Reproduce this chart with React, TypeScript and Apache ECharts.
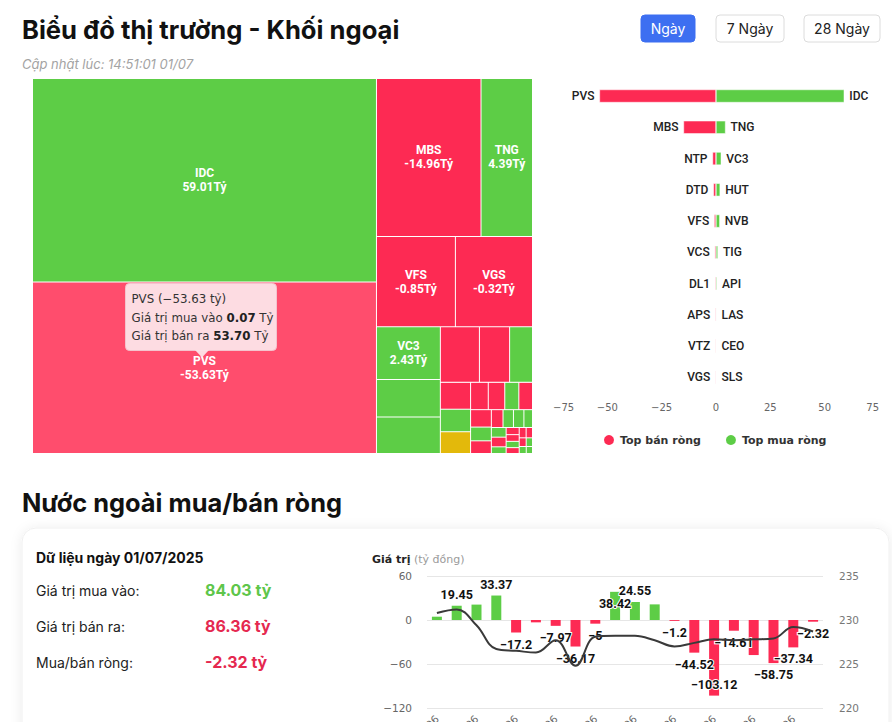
import React, { useEffect, useRef } from 'react';
import * as echarts from 'echarts';

// ---------- colours ----------
const GREEN = '#5dcd46';
const RED = '#fd2a53';
const RED_HOVER = '#ff4d6d';
const YELLOW = '#e3b90b';
const BLUE = '#3d6ff1';

// ---------- header ----------
const TITLE = 'Biểu đồ thị trường - Khối ngoại';
const UPDATED = 'Cập nhật lúc: 14:51:01 01/07';
const RANGE_BUTTONS = ['Ngày', '7 Ngày', '28 Ngày'];

// ---------- treemap (size = buy + sell, label = net) ----------
const tmNames = ['IDC', 'PVS', 'MBS', 'TNG', 'VFS', 'VGS', 'VC3', 'HUT', 'NVB', 'NTP', 'DTD', 'TIG', 'VCS', 'API', 'VTC', 'DL1', 'APS', 'LAS', 'VTZ', 'PVC', 'CEO', 'TVD', 'BVS', 'SLS', 'PVB', 'L14', 'HHC', 'NBC', 'SCG', 'PVG', 'MST', 'TDN', 'VNR', 'DHT', 'PLC', 'BCC', 'IDV', 'NDN', 'VIG'];
const tmTotals = [63.8, 53.77, 15.05, 7.41, 6.5, 6.35, 3.07, 2.18, 2.13, 1.98, 1.53, 1.16, 0.74, 0.62, 0.6, 0.44, 0.41, 0.35, 0.34, 0.33, 0.26, 0.24, 0.19, 0.17, 0.17, 0.14, 0.13, 0.13, 0.09, 0.085, 0.08, 0.075, 0.07, 0.065, 0.06, 0.055, 0.05, 0.045, 0.04];
const tmNet = [59.01, -53.63, -14.96, 4.39, -0.85, -0.32, 2.43, 1.9, 1.75, -1.6, -1.2, 0.9, -0.6, 0.5, 0, -0.42, -0.38, 0.25, -0.33, -0.3, 0.2, -0.2, -0.15, 0.15, 0.12, 0.1, -0.1, 0.09, 0.06, -0.06, -0.05, 0.04, -0.05, -0.04, -0.04, -0.03, 0.03, 0.02, 0.02];
const HOVERED = 'PVS';
const HOVER_BUY = 0.07;
const HOVER_SELL = 53.7;
const LABEL_MIN_SIZE = 3;

// ---------- top net sellers / buyers ----------
const topSellers = ['PVS', 'MBS', 'NTP', 'DTD', 'VFS', 'VCS', 'DL1', 'APS', 'VTZ', 'VGS'];
const topSellValues = [-53.63, -14.96, -1.6, -1.2, -0.85, -0.6, -0.42, -0.38, -0.33, -0.32];
const topBuyers = ['IDC', 'TNG', 'VC3', 'HUT', 'NVB', 'TIG', 'API', 'LAS', 'CEO', 'SLS'];
const topBuyValues = [59.01, 4.39, 2.43, 1.9, 1.75, 0.9, 0.5, 0.25, 0.2, 0.15];

// ---------- foreign net flow ----------
const SECTION_TITLE = 'Nước ngoài mua/bán ròng';
const DATA_DATE = '01/07/2025';
const TOTAL_BUY = 84.03;
const TOTAL_SELL = 86.36;
const panelLabels = ['Giá trị mua vào:', 'Giá trị bán ra:', 'Mua/bán ròng:'];
const flowDates = ['04/06', '05/06', '06/06', '09/06', '10/06', '11/06', '12/06', '13/06', '16/06', '17/06', '18/06', '19/06', '20/06', '23/06', '24/06', '25/06', '26/06', '27/06', '30/06', '01/07'];
const flowNet = [4.5, 19.45, 21.0, 33.37, -17.2, -3.2, -7.97, -36.17, -5, 38.42, 24.55, 21.3, -1.2, -44.52, -103.12, -14.61, -47.8, -58.75, -37.34, -2.32];
const hnxIndex = [230.8, 231.2, 229.4, 226.7, 226.5, 226.3, 227.7, 224.8, 228.1, 228.2, 228.2, 227.7, 227.0, 227.4, 227.8, 227.7, 227.8, 227.9, 229.2, 228.7];
const FLOW_HIDDEN_LABELS = [0, 2, 5, 11, 16];
const FLOW_INSIDE_LABELS = [9, 14];

const minus = (v: number, digits?: number) => {
  const s = digits == null ? String(Math.abs(v)) : Math.abs(v).toFixed(digits);
  return v < 0 ? '\u2212' + s : s;
};

function buildOption() {
  const netColor = (v: number, name: string) => {
    if (v > 0) return GREEN;
    if (v < 0) return name === HOVERED ? RED_HOVER : RED;
    return YELLOW;
  };

  const treemapData = tmNames.map((name, i) => ({
    name,
    value: tmTotals[i],
    net: tmNet[i],
    itemStyle: { color: netColor(tmNet[i], name) },
    label: { show: tmTotals[i] >= LABEL_MIN_SIZE },
  }));

  const hoveredIdx = tmNames.indexOf(HOVERED);
  const tipText =
    `{n|${HOVERED} (${minus(tmNet[hoveredIdx], 2)} tỷ)}\n` +
    `{n|Giá trị mua vào }{b|${HOVER_BUY.toFixed(2)}}{n| Tỷ}\n` +
    `{n|Giá trị bán ra }{b|${HOVER_SELL.toFixed(2)}}{n| Tỷ}`;

  const btnX = [641, 716, 804];
  const btnW = [54, 68, 76];
  const buttons: any[] = [];
  RANGE_BUTTONS.forEach((t, i) => {
    buttons.push({
      type: 'rect',
      shape: { x: btnX[i], y: 15, width: btnW[i], height: 27, r: 4 },
      style: { fill: i === 0 ? BLUE : '#fff', stroke: i === 0 ? BLUE : '#dcdcdc', lineWidth: 1 },
    });
    buttons.push({
      type: 'text',
      x: btnX[i] + btnW[i] / 2,
      y: 28.5,
      style: {
        text: t, fill: i === 0 ? '#fff' : '#222', fontFamily: 'Inter', fontSize: 14,
        align: 'center', verticalAlign: 'middle',
      },
    });
  });

  const netFlow = flowNet[flowNet.length - 1];
  const panelValues = [TOTAL_BUY, TOTAL_SELL, netFlow];
  const panelColors = ['#5ec64a', '#e5284f', '#e5284f'];
  const panel: any[] = [
    {
      type: 'text', x: 36, y: 557,
      style: { text: `Dữ liệu ngày ${DATA_DATE}`, fontFamily: 'Inter', fontWeight: 'bold', fontSize: 14, fill: '#111', verticalAlign: 'middle' },
    },
  ];
  panelLabels.forEach((l, i) => {
    const y = 590 + i * 36.2;
    panel.push({
      type: 'text', x: 36, y,
      style: { text: l, fontFamily: 'Inter', fontSize: 14, fill: '#222', verticalAlign: 'middle' },
    });
    panel.push({
      type: 'text', x: 205, y,
      style: { text: `${panelValues[i].toFixed(2)} tỷ`, fontFamily: 'Inter', fontWeight: 'bold', fontSize: 16, fill: panelColors[i], verticalAlign: 'middle' },
    });
  });

  const graphics: any[] = [
    {
      type: 'text', x: 22, y: 29,
      style: { text: TITLE, fontFamily: 'Inter', fontWeight: 'bold', fontSize: 25.6, fill: '#111', verticalAlign: 'middle' },
    },
    {
      type: 'text', x: 22, y: 63.5,
      style: { text: UPDATED, fontFamily: 'Inter', fontStyle: 'italic', fontSize: 13, fill: '#a3a3a3', verticalAlign: 'middle' },
    },
    ...buttons,
    {
      type: 'text', x: 22, y: 502,
      style: { text: SECTION_TITLE, fontFamily: 'Inter', fontWeight: 'bold', fontSize: 25.4, fill: '#111', verticalAlign: 'middle' },
    },
    {
      type: 'rect', z: -10,
      shape: { x: 22, y: 528, width: 867, height: 240, r: 14 },
      style: { fill: '#fff', stroke: '#f0f0f0', lineWidth: 1, shadowBlur: 12, shadowColor: 'rgba(0,0,0,0.08)', shadowOffsetY: 1 },
    },
    ...panel,
    {
      type: 'text', x: 372, y: 559.5,
      style: {
        text: '{a|Giá trị} {b|(tỷ đồng)}', fontFamily: 'DejaVu Sans', fontSize: 11, fill: '#999', verticalAlign: 'middle',
        rich: {
          a: { fontFamily: 'DejaVu Sans', fontWeight: 'bold', fontSize: 11, fill: '#222' },
          b: { fontFamily: 'DejaVu Sans', fontSize: 11, fill: '#9a9a9a' },
        },
      },
    },
    // tooltip callout of the hovered treemap cell
    {
      type: 'rect', z: 100,
      shape: { x: 125.5, y: 283.5, width: 151, height: 67, r: 4 },
      style: { fill: 'rgba(253,225,230,0.97)', stroke: '#f4c3cd', lineWidth: 1 },
    },
    {
      type: 'polygon', z: 101,
      shape: { points: [[195, 350], [209, 350], [202, 357.5]] },
      style: { fill: 'rgba(253,225,230,0.97)' },
    },
    {
      type: 'text', z: 102, x: 131.5, y: 290,
      style: {
        text: tipText, verticalAlign: 'top', fontFamily: 'DejaVu Sans', fontSize: 11.8, fill: '#333',
        rich: {
          n: { fontFamily: 'DejaVu Sans', fontSize: 11.8, fill: '#333', lineHeight: 18.5 },
          b: { fontFamily: 'DejaVu Sans', fontWeight: 'bold', fontSize: 11.8, fill: '#222', lineHeight: 18.5 },
        },
      },
    },
  ];

  const flowData = flowNet.map((v, i) => {
    const inside = FLOW_INSIDE_LABELS.includes(i);
    return {
      value: v,
      itemStyle: { color: v >= 0 ? GREEN : RED },
      label: {
        show: !FLOW_HIDDEN_LABELS.includes(i),
        position: inside ? (v >= 0 ? 'insideTop' : 'insideBottom') : v >= 0 ? 'top' : 'bottom',
      },
    };
  });

  const barLabelStyle = { fontFamily: 'Roboto', fontSize: 12, fontWeight: 500, color: '#222' };

  return {
    animation: false,
    backgroundColor: '#ffffff',
    graphic: { elements: graphics },
    legend: {
      data: ['Top bán ròng', 'Top mua ròng'],
      left: 597, top: 428, icon: 'circle', itemWidth: 12, itemHeight: 12, itemGap: 23,
      selectedMode: false,
      textStyle: { fontFamily: 'DejaVu Sans', fontWeight: 'bold', fontSize: 11, color: '#333' },
    },
    grid: [
      { left: 553, top: 80.4, width: 326, height: 312.6, outerBoundsMode: 'none', containLabel: false },
      { left: 427, top: 576, width: 396, height: 132, outerBoundsMode: 'none', containLabel: false },
    ],
    xAxis: [
      {
        gridIndex: 0, type: 'value', min: -75, max: 75, interval: 25,
        axisLine: { show: false }, axisTick: { show: false }, splitLine: { show: false },
        axisLabel: {
          formatter: (v: number) => minus(v), color: '#666', fontFamily: 'DejaVu Sans', fontSize: 10, margin: 9,
          alignMinLabel: 'left', alignMaxLabel: 'right',
        },
      },
      {
        gridIndex: 1, type: 'category', data: flowDates,
        axisLine: { show: false }, axisTick: { show: false },
        axisLabel: { rotate: 45, margin: 9, color: '#666', fontFamily: 'DejaVu Sans', fontSize: 10.5 },
      },
    ],
    yAxis: [
      { gridIndex: 0, type: 'category', inverse: true, data: topSellers, show: false },
      {
        gridIndex: 1, type: 'value', min: -120, max: 60, interval: 60,
        axisLine: { show: false }, axisTick: { show: false },
        splitLine: { lineStyle: { color: '#e6e6e6', width: 1 } },
        axisLabel: { formatter: (v: number) => minus(v), margin: 15, color: '#666', fontFamily: 'DejaVu Sans', fontSize: 10.5 },
      },
      {
        gridIndex: 1, type: 'value', position: 'right', min: 220, max: 235, interval: 5,
        axisLine: { show: false }, axisTick: { show: false }, splitLine: { show: false },
        axisLabel: { margin: 16, color: '#777', fontFamily: 'DejaVu Sans', fontSize: 10.5 },
      },
    ],
    series: [
      {
        type: 'treemap',
        left: 33, top: 79, width: 499, height: 374,
        roam: false, nodeClick: false,
        breadcrumb: { show: false },
        sort: 'desc',
        visibleMin: 0,
        itemStyle: { borderWidth: 0, gapWidth: 1, borderColor: '#fff' },
        upperLabel: { show: false },
        label: {
          show: true, position: 'inside',
          formatter: (p: any) => `${p.name}\n${p.data.net.toFixed(2)}Tỷ`,
          fontFamily: 'Roboto', fontWeight: 'bold', fontSize: 12, lineHeight: 14, color: '#fff',
        },
        emphasis: { disabled: true },
        data: treemapData,
      },
      {
        name: 'Top bán ròng', type: 'bar', xAxisIndex: 0, yAxisIndex: 0,
        data: topSellValues, barWidth: 13, barGap: '-100%',
        itemStyle: { color: RED, borderColor: '#fff', borderWidth: 0.5 },
        label: { show: true, position: 'left', distance: 5, formatter: (p: any) => topSellers[p.dataIndex], ...barLabelStyle },
      },
      {
        name: 'Top mua ròng', type: 'bar', xAxisIndex: 0, yAxisIndex: 0,
        data: topBuyValues, barWidth: 13, barGap: '-100%',
        itemStyle: { color: GREEN, borderColor: '#fff', borderWidth: 0.5 },
        label: { show: true, position: 'right', distance: 5, formatter: (p: any) => topBuyers[p.dataIndex], ...barLabelStyle },
      },
      {
        name: 'Giá trị', type: 'bar', xAxisIndex: 1, yAxisIndex: 1,
        data: flowData, barWidth: 10,
        label: {
          show: true, distance: 5,
          formatter: (p: any) => minus(p.value),
          fontFamily: 'Roboto', fontWeight: 'bold', fontSize: 12.5, color: '#111',
          textBorderColor: '#fff', textBorderWidth: 2,
        },
      },
      {
        name: 'HNX-Index', type: 'line', xAxisIndex: 1, yAxisIndex: 2,
        data: hnxIndex, smooth: 0.4, symbol: 'none', z: 3,
        lineStyle: { color: '#3a3a3a', width: 2 },
      },
    ],
  };
}

export default function App() {
  const ref = useRef<HTMLDivElement>(null);
  useEffect(() => {
    if (!ref.current) return;
    const chart = echarts.init(ref.current, null, { renderer: 'svg' });
    chart.setOption(buildOption() as any);
    return () => chart.dispose();
  }, []);
  return (
    <div
      ref={ref}
      style={{ position: 'absolute', left: 0, top: 0, width: 892, height: 722, background: '#fff', overflow: 'hidden' }}
    />
  );
}
